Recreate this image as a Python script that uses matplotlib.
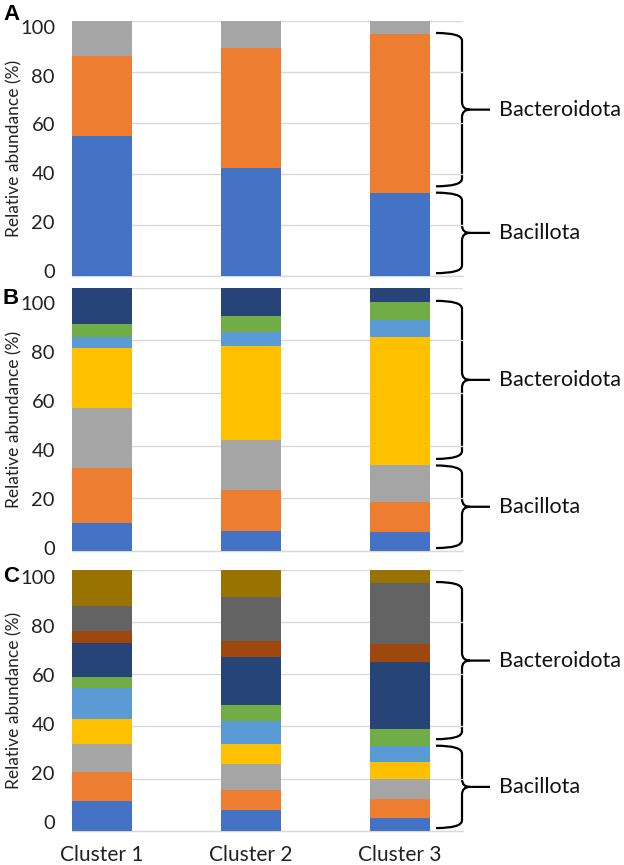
import matplotlib
matplotlib.use("Agg")
import matplotlib.pyplot as plt
import matplotlib.transforms as mtransforms
from matplotlib.path import Path
from matplotlib.patches import PathPatch
import numpy as np

plt.rcParams['font.family'] = ['Lato', 'DejaVu Sans']

clusters = ["Cluster 1", "Cluster 2", "Cluster 3"]
y_ticks = [0, 20, 40, 60, 80, 100]
group_labels = ["Bacillota", "Bacteroidota"]

# Panel A segments (bottom -> top), one value per cluster
panel_a = [
    [54.7, 42.4, 32.6],
    [31.4, 46.9, 62.4],
    [13.9, 10.7, 5.0],
]
# Panel B segments
panel_b = [
    [10.5, 7.6, 7.2],
    [21.1, 15.5, 11.2],
    [22.8, 19.0, 14.0],
    [22.7, 35.8, 49.0],
    [4.3, 5.4, 6.4],
    [4.7, 5.8, 6.9],
    [13.9, 10.9, 5.3],
]
# Panel C segments
panel_c = [
    [11.5, 7.8, 5.0],
    [10.9, 7.8, 7.0],
    [11.0, 10.1, 7.8],
    [9.3, 7.4, 6.7],
    [12.0, 9.1, 6.1],
    [4.3, 6.0, 6.5],
    [13.1, 18.6, 25.6],
    [4.4, 5.8, 7.0],
    [9.6, 16.9, 23.4],
    [13.9, 10.5, 4.9],
]
# number of segments belonging to Bacillota / up to end of Bacteroidota
panel_groups = [(1, 2), (3, 6), (5, 9)]

colors = ["#4472C4", "#ED7D31", "#A5A5A5", "#FFC000", "#5B9BD5",
          "#70AD47", "#264478", "#9E480E", "#636363", "#997300"]

W, H = 624, 865
fig = plt.figure(figsize=(W / 100, H / 100), dpi=100)

# axes extents in pixels: (left, right, y_top(100), y_bottom(0))
ax_px = [(72, 463, 21, 275.7), (72, 463, 287.7, 550.7), (72, 463, 570, 830.7)]
# tick-label placement (labels are slightly compressed toward the panel centre)
label_scale = [(0.96, 1.2), (0.93, 0.5), (0.94, 2.8)]
letters = ["A", "B", "C"]
letter_y = [15, 298, 577]
panels = [panel_a, panel_b, panel_c]

px = mtransforms.Affine2D().scale(1 / W, 1 / H) + fig.transFigure

for i, (data, (l, r, t, b)) in enumerate(zip(panels, ax_px)):
    ax = fig.add_axes([l / W, (H - b) / H, (r - l) / W, (b - t) / H])
    x = np.arange(len(clusters))
    bottom = np.zeros(len(clusters))
    for k, seg in enumerate(data):
        seg = np.array(seg)
        ax.bar(x, seg, width=0.4, bottom=bottom, color=colors[k], zorder=3,
               linewidth=0)
        bottom = bottom + seg
    ax.set_xlim(-0.2, 2.423)
    ax.set_ylim(0, 100)
    ax.set_yticks(y_ticks)
    ax.set_yticklabels([])
    ax.tick_params(axis='y', length=0)
    ytr = mtransforms.blended_transform_factory(px, ax.transData)
    sa, sc = label_scale[i]
    for v in y_ticks:
        ax.text(55, sa * v + sc, str(v), transform=ytr, ha='right',
                va='center', fontsize=14.5, color="#222222", clip_on=False)
    ax.grid(axis='y', color="#D9D9D9", linewidth=1, zorder=0)
    for s in ["top", "right", "left"]:
        ax.spines[s].set_visible(False)
    ax.spines["bottom"].set_color("#D9D9D9")
    ax.spines["bottom"].set_linewidth(1)
    if i == 2:
        ax.set_xticks(x)
        ax.set_xticklabels(clusters, fontsize=15, color="#222222")
        ax.tick_params(axis='x', length=0, pad=10)
    else:
        ax.set_xticks([])
    ax.set_ylabel("Relative abundance (%)", fontsize=12.5, color="#222222")
    ax.yaxis.set_label_coords(-0.128, 0.5)

    fig.text(3 / W, 1 - letter_y[i] / H, letters[i], fontsize=16,
             fontweight='bold', family='Liberation Sans', va='center', ha='left')

    # braces from cluster 3 cumulative values
    cum = np.cumsum([seg[2] for seg in data])
    n_bac, n_bct = panel_groups[i]
    b_top = cum[n_bac - 1]
    t_top = cum[n_bct - 1]
    tr = ytr
    rr = 3.0
    for (y0, y1), lab in zip([(1.0, b_top), (b_top + 2.5, t_top + 0.3)], group_labels):
        ym = (y0 + y1) / 2
        verts = [(436, y1), (462, y1), (462, y1 - rr), (462, ym + rr),
                 (462, ym), (470, ym), (490, ym),
                 (470, ym), (462, ym), (462, ym - rr), (462, y0 + rr),
                 (462, y0), (436, y0)]
        codes = [Path.MOVETO, Path.CURVE3, Path.CURVE3, Path.LINETO,
                 Path.CURVE3, Path.CURVE3, Path.LINETO,
                 Path.MOVETO, Path.CURVE3, Path.CURVE3, Path.LINETO,
                 Path.CURVE3, Path.CURVE3]
        patch = PathPatch(Path(verts, codes), transform=tr, fill=False,
                          edgecolor="black", linewidth=1.6, clip_on=False)
        ax.add_artist(patch)
        ax.text(499, ym, lab, transform=tr, fontsize=15.5, va='center',
                ha='left', color="#111111", clip_on=False)

fig.savefig("out.png", dpi=100)
